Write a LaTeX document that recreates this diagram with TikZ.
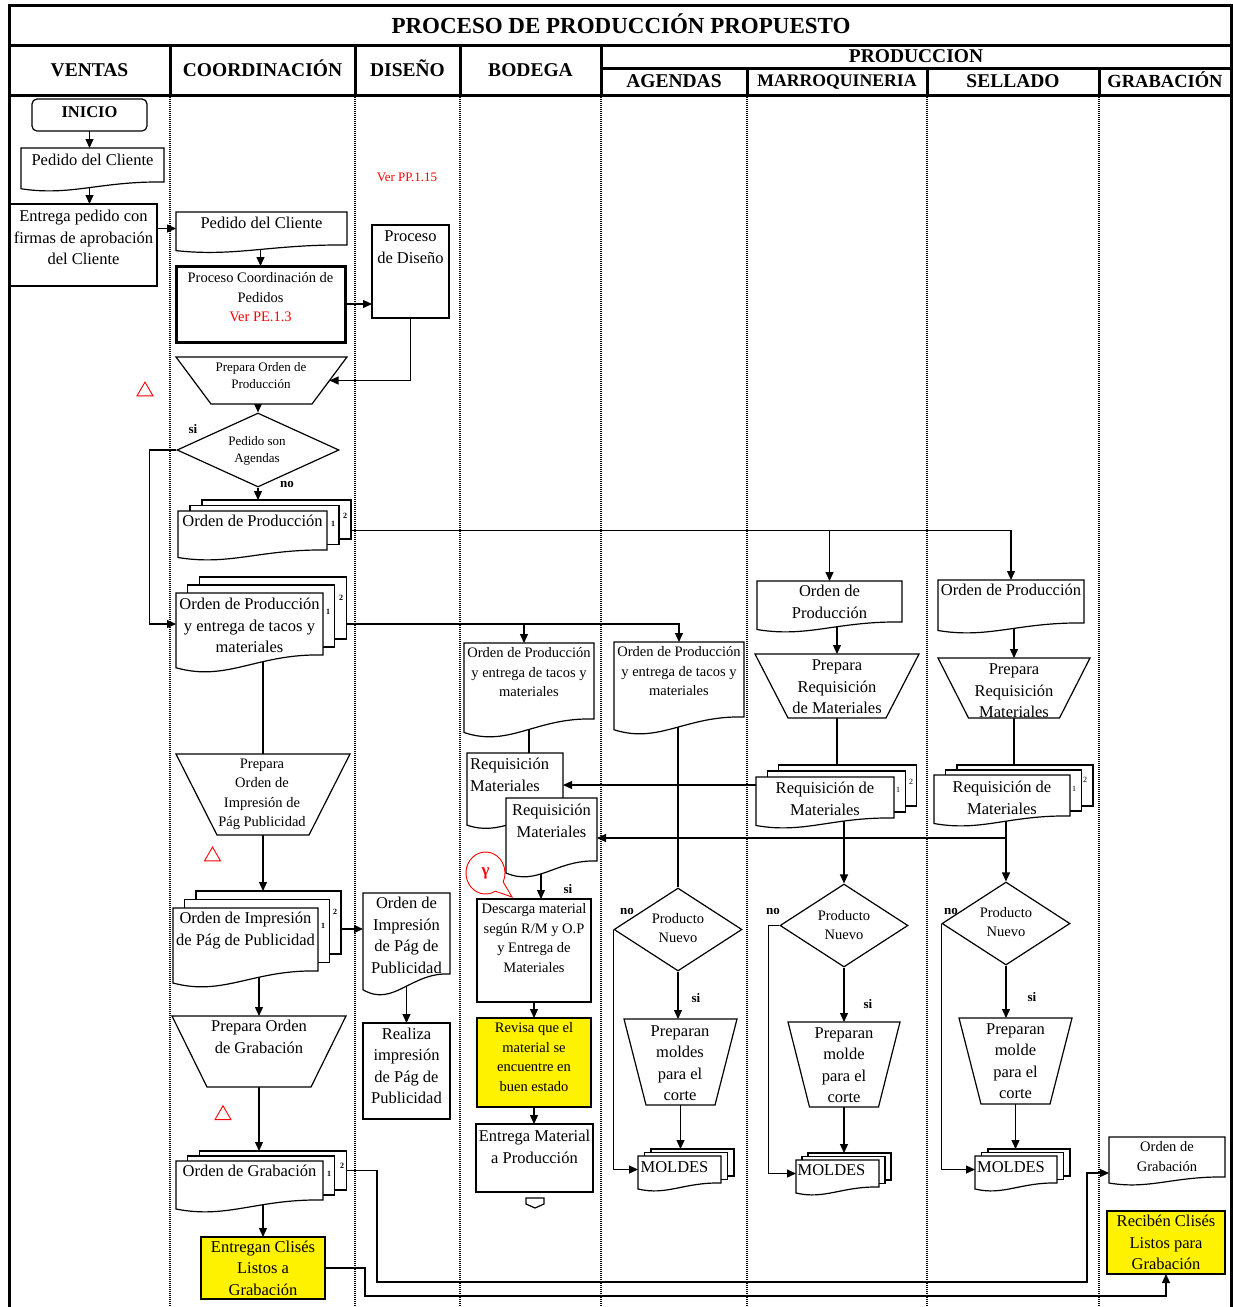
\documentclass[tikz,border=0pt]{standalone}
\usepackage{fontspec}
\setmainfont{Liberation Serif}
\usetikzlibrary{arrows.meta,calc,shapes.geometric}
\pgfdeclarelayer{lanes}
\pgfdeclarelayer{links}
\pgfsetlayers{lanes,links,main}

% text sizes
\newcommand\txtA{\fontsize{16.5}{21.5}\selectfont}
\newcommand\txtB{\fontsize{14.5}{19.5}\selectfont}
\newcommand\txtC{\fontsize{13}{17.5}\selectfont}
\newcommand\txtH{\fontsize{19.5}{22}\selectfont\bfseries}

\tikzset{
  ln/.style={line width=1.2pt, line join=miter},
  arr/.style={ln, -{Triangle[length=9pt,width=8pt]}},
  frame/.style={shape=rectangle, inner sep=0pt, outer sep=0pt, draw=none},
  box/.style={frame, draw, ln, fill=white},
  hl/.style={fill=yellow},
  lbl/.style={inner sep=0pt, align=center, font=\txtA},
  lblB/.style={lbl, font=\txtB},
  lblC/.style={lbl, font=\txtC},
  yn/.style={inner sep=0pt, font=\txtC\bfseries},
  cnum/.style={inner sep=0pt, font=\fontsize{8}{8}\selectfont\bfseries},
  lane/.style={line width=1.5pt, dash pattern=on 1pt off 1pt},
  rule/.style={line width=3pt},
  hdr/.style={inner sep=0pt, anchor=base, font=\txtH},
  redtri/.style={regular polygon, regular polygon sides=3, draw=red, line width=0.9pt, minimum size=18.5, inner sep=0pt},
  decision/.style={diamond, draw, ln, fill=white, inner sep=0pt}
}

% invisible rectangular frame from (x0,y0) to (x1,y1)
\newcommand\frm[6][]{%
  \node[frame,#1,minimum width={(#5)-(#3)},minimum height={(#6)-(#4)}] (#2)
    at ({((#3)+(#5))/2},{((#4)+(#6))/2}) {};}

% document symbol: frame to the right bottom corner, wavy lower edge of depth #7
\newcommand\docu[7][]{%
  \frm{#2}{#3}{#4}{#5}{#6}%
  \draw[ln,fill=white,#1] (#2.north west) -- (#2.north east) -- (#2.south east)
    .. controls +({-0.45*((#5)-(#3))},{-0.1*(#7)}) and +({0.35*((#5)-(#3))},{0.85*(#7)})
    .. ($(#2.south west)+(0,{0.75*(#7)})$) -- cycle;}

% two sheets stacked behind a document
\newcommand\copies[7]{%
  \frm[box]{#1-b}{(#2)+2*(#6)}{(#3)-2*(#7)}{(#4)+2*(#6)}{(#5)-2*(#7)}%
  \frm[box]{#1-m}{(#2)+(#6)}{(#3)-(#7)}{(#4)+(#6)}{(#5)-(#7)}}

% manual operation: wide top, bottom narrowed by #6 on each side
\newcommand\trap[6]{%
  \frm{#1}{#2}{#3}{#4}{#5}%
  \draw[ln,fill=white] (#1.north west) -- (#1.north east)
    -- ([xshift=-#6pt]#1.south east) -- ([xshift=#6pt]#1.south west) -- cycle;}

\begin{document}
\begin{tikzpicture}[x=1pt,y=-1pt]
\useasboundingbox (0,0) rectangle (1233,1307);

\begin{pgfonlayer}{lanes}
  \fill[white] (0,0) rectangle (1233,1307);
  \foreach \lx in {170,355,460,601,747,927,1099}
    \draw[lane] (\lx,95) -- (\lx,1307);
\end{pgfonlayer}

% ---------- header ----------
\draw[rule] (9,1307) -- (9,5) -- (1231,5) -- (1231,1307);
\draw[rule] (9,45) -- (1231,45);
\draw[rule] (9,95) -- (1231,95);
\draw[rule] (601,68) -- (1231,68);
\foreach \hx in {170,355,460,601} \draw[rule] (\hx,45) -- (\hx,95);
\foreach \hx in {747,927,1099} \draw[rule] (\hx,68) -- (\hx,95);

\node[hdr,font=\fontsize{23}{26}\selectfont\bfseries] (title) at (621,33) {PROCESO DE PRODUCCIÓN PROPUESTO};
\node[hdr] (h-ventas) at (89.5,76) {VENTAS};
\node[hdr] (h-coord) at (262.5,76) {COORDINACIÓN};
\node[hdr] (h-dis) at (407.5,76) {DISEÑO};
\node[hdr] (h-bod) at (530.5,76) {BODEGA};
\node[hdr] (h-prod) at (916,62) {PRODUCCION};
\node[hdr] (h-age) at (674,87) {AGENDAS};
\node[hdr,font=\fontsize{17.7}{20}\selectfont\bfseries] (h-mar) at (837,86) {MARROQUINERIA};
\node[hdr] (h-sel) at (1013,87) {SELLADO};
\node[hdr,font=\fontsize{18.5}{20}\selectfont\bfseries] (h-gra) at (1165,87) {GRABACIÓN};

% ---------- Ventas ----------
\frm[box,rounded corners=5pt]{inicio}{32}{99}{147}{131}
\node[lbl,font=\txtA\bfseries] (inicio-t) at (89.5,112) {INICIO};
\docu{pc1}{21}{148}{164}{182}{9}
\node[lbl,anchor=north] (pc1-t) at (92.5,153.4) {Pedido del Cliente};
\frm[box]{entrega}{10}{204}{157}{286}
\node[lbl,anchor=north] (entrega-t) at (83.5,209.9) {Entrega pedido con\\firmas de aprobación\\del Cliente};

% ---------- Coordinación ----------
\docu{pcc}{176}{212}{347}{245}{7.5}
\node[lbl,anchor=north] (pcc-t) at (261.5,216.4) {Pedido del Cliente};
\frm[box,line width=3pt]{pcoord}{176}{266}{345}{342}
\node[lblB,anchor=north] (pcoord-t) at (260.5,272.6) {Proceso Coordinación de\\Pedidos\\\textcolor{red}{Ver PE.1.3}};
\trap{prep1}{176}{357}{347}{404}{35}
\node[lblC,anchor=north] (prep1-t) at (261,362.2) {Prepara Orden de\\Producción};
\node[decision,minimum width=162,minimum height=74] (dec1) at (258,450) {};
\node[lblC] (dec1-t) at (257,451) {Pedido son\\Agendas};
\node[yn] (si1) at (193,429) {si};
\node[yn] (no1) at (287,484) {no};

\copies{op}{178}{511}{327}{550}{12}{5.5}
\docu{op}{178}{511}{327}{550}{10}
\node[lbl,anchor=north] (op-t) at (252.5,514.9) {Orden de Producción};
\node[cnum] (op-n1) at (333,524) {1};
\node[cnum] (op-n2) at (345,516) {2};

\copies{ope}{176}{593}{323}{655}{11.7}{8}
\docu{ope}{176}{593}{323}{655}{17}
\node[lbl,anchor=north] (ope-t) at (249.5,597.9) {Orden de Producción\\y entrega de tacos y\\materiales};
\node[cnum] (ope-n1) at (328,612) {1};
\node[cnum] (ope-n2) at (341,598) {2};

\trap{pimp}{176}{754}{350}{835}{41}
\node[lblB,anchor=north] (pimp-t) at (262,758.6) {Prepara\\Orden de\\Impresión de\\Pág Publicidad};

\copies{pi}{173}{908}{318}{971}{11.5}{8.5}
\docu{pi}{173}{908}{318}{971}{16}
\node[lbl,anchor=north] (pi-t) at (245.5,911.9) {Orden de Impresión\\de Pág de Publicidad};
\node[cnum] (pi-n1) at (323,926) {1};
\node[cnum] (pi-n2) at (335,912) {2};

\trap{pgrab}{172}{1016}{346}{1087}{35}
\node[lbl,anchor=north] (pgrab-t) at (259,1019.9) {Prepara Orden\\de Grabación};

\copies{og}{176}{1161}{323}{1200}{11.7}{5}
\docu{og}{176}{1161}{323}{1200}{12}
\node[lbl,anchor=north] (og-t) at (249.5,1164.9) {Orden de Grabación};
\node[cnum] (og-n1) at (329,1174) {1};
\node[cnum] (og-n2) at (342,1166) {2};

\node[box,hl,minimum width=124,minimum height=62,font=\txtA,align=center] (clis) at (263,1268) {Entregan Clisés\\Listos a\\Grabación};

\node[redtri] (tri1) at (145,391.3) {};
\node[redtri] (tri2) at (212.5,856.3) {};
\node[redtri] (tri3) at (223,1115) {};

% ---------- Diseño ----------
\node[lblC,text=red] (verpp) at (407,177) {Ver PP.1.15};
\frm[box]{dise}{372}{225}{449}{318}
\node[lbl,anchor=north] (dise-t) at (410.5,230.9) {Proceso\\de Diseño};
\docu{dpi}{363}{893}{450}{974}{21}
\node[lbl,anchor=north] (dpi-t) at (406.5,896.9) {Orden de\\Impresión\\de Pág de\\Publicidad};
\frm[box]{realiza}{363}{1023}{450}{1119}
\node[lbl] (realiza-t) at (406.5,1066) {Realiza\\impresión\\de Pág de\\Publicidad};

% ---------- Bodega ----------
\docu{bop}{464}{643}{594}{719}{18}
\node[lblB,anchor=north] (bop-t) at (529,647.6) {Orden de Producción\\y entrega de tacos y\\materiales};
\docu{breq1}{467}{753}{563}{815}{13.5}
\node[lbl,align=left,anchor=north west] (breq1-t) at (470,757.9) {Requisición\\Materiales};
\docu{breq2}{506}{798}{597}{861}{16}
\node[lbl,anchor=north] (breq2-t) at (551.5,803.9) {Requisición\\Materiales};
\frm[box]{desc}{477}{899}{591}{1002}
\node[lblB,anchor=north] (desc-t) at (534,903.6) {Descarga material\\según R/M y O.P\\y Entrega de\\Materiales};
\node[yn] (si-bod) at (568,889) {si};
\frm[box,hl]{rev}{477}{1018}{591}{1107}
\node[lblB] (rev-t) at (534,1057) {Revisa que el\\material se\\encuentre en\\buen estado};
\frm[box]{entm}{476}{1124}{593}{1192}
\node[lbl,anchor=north] (entm-t) at (534.5,1129.9) {Entrega Material\\a Producción};
\frm{offp}{526}{1198}{544}{1208}
\draw[ln] (offp.north west) -- (offp.north east) -- ([yshift=4pt]offp.south east)
  -- (offp.south) -- ([yshift=4pt]offp.south west) -- cycle;

% callout with gamma
\coordinate (gam) at (485.5,873);
\draw[red,line width=0.9pt,fill=white] ($(gam)+(25:19.5 and 21)$) -- (512,897)
  -- ($(gam)+(60:19.5 and 21)$) arc[start angle=60,end angle=385,x radius=19.5,y radius=21] -- cycle;
\node[inner sep=0pt,text=red,font=\fontsize{17}{17}\selectfont\bfseries] (gam-t) at (485.5,873) {γ};

% ---------- Agendas ----------
\docu{aop}{614}{642}{744}{717}{17}
\node[lblB,anchor=north] (aop-t) at (679,646.6) {Orden de Producción\\y entrega de tacos y\\materiales};
\node[decision,minimum width=128,minimum height=83] (adec) at (678,929.5) {};
\node[lblB] (adec-t) at (678,928) {Producto\\Nuevo};
\node[yn] (no-age) at (627,911) {no};
\node[yn] (si-age) at (696,998) {si};
\trap{atrap}{624}{1019}{737}{1105}{22}
\node[lbl] (atrap-t) at (680,1063) {Preparan\\moldes\\para el\\corte};
\copies{am}{638}{1156}{721}{1183}{6.5}{3.5}
\docu{am}{638}{1156}{721}{1183}{8}
\node[lbl,anchor=north] (am-t) at (674.5,1160.9) {MOLDES};

% ---------- Marroquinería ----------
\docu{mop}{757}{581}{902}{622}{10}
\node[lbl,anchor=north] (mop-t) at (829.5,584.9) {Orden de\\Producción};
\trap{mtrap}{755}{654}{919}{718}{33}
\node[lbl] (mtrap-t) at (837,687) {Prepara\\Requisición\\de Materiales};
\copies{mreq}{756}{777}{894}{818}{11.3}{6}
\docu{mreq}{756}{777}{894}{818}{10}
\node[lbl,anchor=north] (mreq-t) at (825,781.9) {Requisición de\\Materiales};
\node[cnum,font=\fontsize{8}{8}\selectfont] (mreq-n1) at (898,790) {1};
\node[cnum,font=\fontsize{8}{8}\selectfont] (mreq-n2) at (911,782) {2};
\node[decision,minimum width=128,minimum height=83] (mdec) at (844,925.5) {};
\node[lblB] (mdec-t) at (844,925) {Producto\\Nuevo};
\node[yn] (no-mar) at (773,911) {no};
\node[yn] (si-mar) at (868,1004) {si};
\trap{mtrap2}{788}{1022}{900}{1107}{21.5}
\node[lbl] (mtrap2-t) at (844,1065) {Preparan\\molde\\para el\\corte};
\copies{mm}{796}{1160}{879}{1187}{6}{3.5}
\docu{mm}{796}{1160}{879}{1187}{8}
\node[lbl,anchor=north] (mm-t) at (831.5,1163.9) {MOLDES};

% ---------- Sellado ----------
\docu{sop}{938}{580}{1084}{623}{10}
\node[lbl,anchor=north] (sop-t) at (1011,583.9) {Orden de Producción};
\trap{strap}{938}{658}{1090}{718}{30.5}
\node[lbl] (strap-t) at (1014,691) {Prepara\\Requisición\\Materiales};
\copies{sreq}{934}{775}{1070}{816}{11.5}{5}
\docu{sreq}{934}{775}{1070}{816}{10}
\node[lbl,anchor=north] (sreq-t) at (1002,780.9) {Requisición de\\Materiales};
\node[cnum,font=\fontsize{8}{8}\selectfont] (sreq-n1) at (1074,789) {1};
\node[cnum,font=\fontsize{8}{8}\selectfont] (sreq-n2) at (1085,780) {2};
\node[decision,minimum width=128,minimum height=83] (sdec) at (1006,923.5) {};
\node[lblB] (sdec-t) at (1006,922) {Producto\\Nuevo};
\node[yn] (no-sel) at (951,911) {no};
\node[yn] (si-sel) at (1032,997) {si};
\trap{strap2}{959}{1018}{1072}{1104}{22}
\node[lbl] (strap2-t) at (1015.5,1061) {Preparan\\molde\\para el\\corte};
\copies{sm}{975}{1156}{1057}{1183}{6.5}{3.5}
\docu{sm}{975}{1156}{1057}{1183}{8}
\node[lbl,anchor=north] (sm-t) at (1011,1160.9) {MOLDES};

% ---------- Grabación ----------
\docu{ogr}{1109}{1137}{1225}{1177}{8}
\node[lblB,anchor=north] (ogr-t) at (1167,1141.6) {Orden de\\Grabación};
\node[box,hl,minimum width=118,minimum height=63,font=\txtA,align=center] (recib) at (1166,1242.5) {Recibén Clisés\\Listos para\\Grabación};

% ---------- connectors ----------
\begin{pgfonlayer}{links}
  \draw[arr] (inicio) -- (inicio |- pc1.north);
  \draw[arr] (pc1.south -| inicio) -- (entrega.north -| inicio);
  \draw[arr] (entrega.east |- pcc.west) -- (pcc.west);
  \draw[arr] (pcoord.north |- pcc.south) -- (pcoord.north);
  \draw[arr] (pcoord.east) -- (pcoord.east -| dise.west);
  \coordinate (prep1-r) at ($(prep1.north east)!0.5!([xshift=-35pt]prep1.south east)$);
  \draw[arr] (dise.south) |- (prep1-r);
  \draw[arr] (dec1.north |- prep1.south) -- (dec1.north);
  \draw[arr] (dec1.south) -- (dec1.south |- op-b.north);
  \draw[arr] (dec1.west) -- ++(-27,0) |- (ope.west);

  % order copies to Marroquinería and Sellado
  \coordinate (j1) at (op-b.east |- op.west);
  \draw[arr] (j1) -| (sop.north);
  \draw[arr] (j1 -| mop.north) -- (mop.north);

  % order with materials to Bodega and Agendas
  \coordinate (j2) at (ope-b.east |- ope.west);
  \draw[arr] (j2) -| (aop.north);
  \coordinate (bop-in) at ([xshift=-5pt]bop.north);
  \draw[arr] (j2 -| bop-in) -- (bop-in);

  \draw[ln] (pimp.north |- ope.south) -- (pimp.north);
  \draw[arr] (pimp.south) -- (pimp.south |- pi-b.north);
  \coordinate (pi-o) at ([yshift=-6.5pt]pi-b.east);
  \draw[arr] (pi-o) -- (pi-o -| dpi.west);
  \draw[arr] (realiza.north |- dpi.south) -- (realiza.north);
  \draw[arr] (pgrab.north |- pi.south) -- (pgrab.north);
  \draw[arr] (pgrab.south) -- (pgrab.south |- og-b.north);
  \draw[arr] (clis.north |- og.south) -- (clis.north);

  % engraving order and clichés to Grabación
  \coordinate (b1) at (377,1282);
  \coordinate (ogr-in) at ([yshift=-16pt]ogr.west);
  \draw[arr] (og-b.east) -| (b1) -| ([xshift=-22pt]ogr-in) -- (ogr-in);
  \coordinate (b2) at (365,1296);
  \draw[arr] (clis.east) -| (b2) -| (recib.south);

  % Bodega
  \draw[ln] (bop.south) -- (bop.south |- breq1.north);
  \coordinate (mreq-o) at ([yshift=12.5pt]mreq.west);
  \draw[arr] (mreq-o) -- (mreq-o -| breq1.east);
  \coordinate (breq2-in) at ([yshift=-8.5pt]breq2.east);
  \draw[arr] (sdec.north |- breq2-in) -- (breq2-in);
  \coordinate (desc-in) at ([xshift=7pt]desc.north);
  \draw[arr] (desc-in |- breq2.south) -- (desc-in);
  \draw[arr] (desc.south) -- (rev.north);
  \draw[arr] (rev.south) -- (rev.south |- entm.north);

  % Agendas
  \draw[ln] (adec.north |- aop.south) -- (adec.north);
  \draw[arr] (adec.south) -- (adec.south |- atrap.north);
  \draw[arr] (atrap.south) -- (atrap.south |- am-b.north);
  \draw[arr] (adec.west) |- (am.west);

  % Marroquinería
  \draw[arr] (mtrap.north |- mop.south) -- (mtrap.north);
  \draw[ln] (mtrap.south) -- (mtrap.south |- mreq-b.north);
  \draw[arr] (mdec.north |- mreq.south) -- (mdec.north);
  \draw[arr] (mdec.west) -- ++(-11,0) |- (mm.west);
  \draw[arr] (mdec.south) -- (mdec.south |- mtrap2.north);
  \draw[arr] (mtrap2.south) -- (mtrap2.south |- mm-b.north);

  % Sellado
  \draw[arr] (strap.north |- sop.south) -- (strap.north);
  \draw[ln] (strap.south) -- (strap.south |- sreq-b.north);
  \draw[arr] (sdec.north |- sreq.south) -- (sdec.north);
  \draw[arr] (sdec.west) |- (sm.west);
  \draw[arr] (sdec.south) -- (sdec.south |- strap2.north);
  \draw[arr] (strap2.south) -- (strap2.south |- sm-b.north);
\end{pgfonlayer}
\end{tikzpicture}
\end{document}
